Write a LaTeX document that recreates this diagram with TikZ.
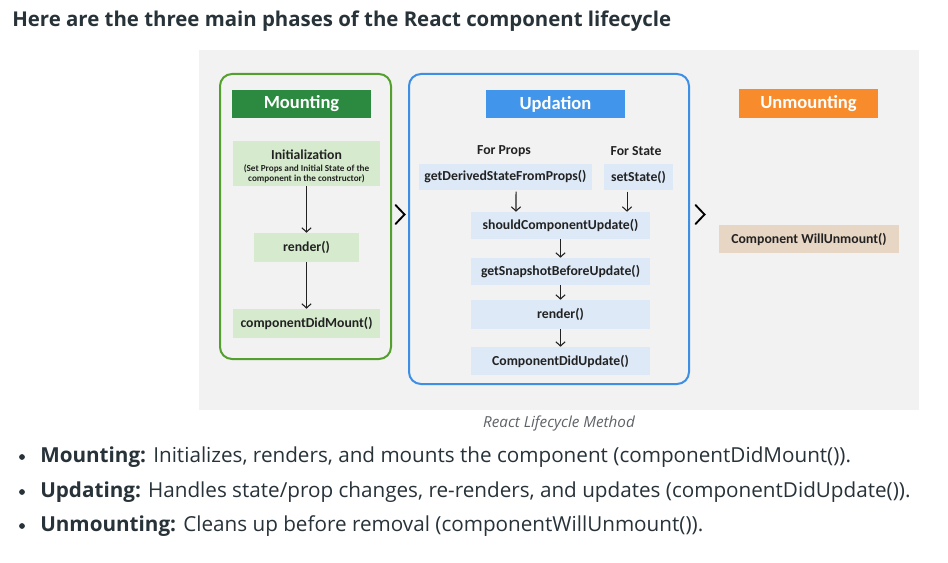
\documentclass[tikz,border=0pt]{standalone}
\usepackage{fontspec}
\setmainfont{Open Sans}
\newfontfamily\dfont{Carlito}
\usetikzlibrary{arrows.meta}
\definecolor{txt}{HTML}{273239}
\definecolor{panel}{HTML}{F2F2F2}
\definecolor{gborder}{HTML}{54A02E}
\definecolor{ghead}{HTML}{2B8A3F}
\definecolor{glight}{HTML}{D6EBCD}
\definecolor{bborder}{HTML}{3D8FE6}
\definecolor{bhead}{HTML}{4195EA}
\definecolor{blight}{HTML}{DDE9F7}
\definecolor{ohead}{HTML}{F88B2C}
\definecolor{beige}{HTML}{E8D6C5}
\definecolor{dtxt}{HTML}{222222}
\definecolor{captxt}{HTML}{5F6367}
\begin{document}
\begin{tikzpicture}[x=0.75pt,y=-0.75pt,
  phasebox/.style={draw, line width=1.5pt, rounded corners=9pt},
  headbox/.style={fill=#1, text=white, inner sep=0pt, minimum height=21pt, minimum width=104.25pt,
     font=\dfont\bfseries\fontsize{13.9}{15}\selectfont},
  dfnt/.style={font=\dfont\bfseries\fontsize{10.3}{12}\selectfont},
  mbox/.style={fill=glight, text=dtxt, inner sep=0pt, dfnt},
  ubox/.style={fill=blight, text=dtxt, inner sep=0pt, dfnt},
  lbl/.style={text=dtxt, inner sep=0pt, dfnt},
  arr/.style={draw=dtxt, line width=0.8pt, -{Straight Barb[length=3.2pt,width=7pt]}},
  chev/.style={draw=black, line width=1.4pt, line cap=round, line join=miter},
  bul/.style={anchor=base west, inner sep=0pt, text=txt, font=\fontsize{15.5}{18}\selectfont}
]
\useasboundingbox (0,0) rectangle (948,563);
\fill[white] (0,0) rectangle (948,563);

% title
\node[anchor=base west, inner sep=0pt, text=txt, font=\bfseries\fontsize{15.3}{18}\selectfont] (title) at (12,27)
  {Here are the three main phases of the React component lifecycle};

% panel
\fill[panel] (199,50) rectangle (919,410);

% Mounting
\draw[phasebox, draw=gborder] (220,74) rectangle (391,359);
\node[headbox=ghead] (mhead) at (301.5,104) {Mounting};
\node[mbox, minimum width=110.25pt, minimum height=33.75pt] (init) at (306.5,163.5) {};
\node[lbl] (initt) at (306.5,155) {Initialization};
\node[lbl, align=center, font=\dfont\bfseries\fontsize{6.9}{7.6}\selectfont] (inits) at (306.5,173.5)
  {(Set Props and Initial State of the\\component in the constructor)};
\node[mbox, minimum width=78.75pt, minimum height=21.75pt] (mrender) at (306.5,247.5) {render()};
\node[mbox, minimum width=110.25pt, minimum height=21.75pt] (cdm) at (306.5,323.5) {componentDidMount()};
\draw[arr] (init.south) -- (mrender.north);
\draw[arr] (mrender.south) -- (cdm.north);

% Updation
\draw[phasebox, draw=bborder] (409,74) rectangle (689,384);
\node[headbox=bhead] (uhead) at (555.5,104) {Updation};
\node[lbl] (fprops) at (504,151) {For Props};
\node[lbl] (fstate) at (636,151) {For State};
\node[ubox, minimum width=129.75pt, minimum height=19.5pt] (gdsfp) at (505.5,177) {getDerivedStateFromProps()};
\node[ubox, minimum width=51.75pt, minimum height=19.5pt] (setst) at (638.5,177) {setState()};
\node[ubox, minimum width=134.25pt, minimum height=20.25pt] (scu) at (560.5,225.5) {shouldComponentUpdate()};
\node[ubox, minimum width=134.25pt, minimum height=20.25pt] (gsbu) at (560.5,271.5) {getSnapshotBeforeUpdate()};
\node[ubox, minimum width=134.25pt, minimum height=21.75pt] (urender) at (560.5,314.5) {render()};
\node[ubox, minimum width=134.25pt, minimum height=21pt] (cdu) at (560.5,361) {ComponentDidUpdate()};
\draw[arr] ([xshift=7.9pt,yshift=-1pt]gdsfp.south) -- ([xshift=-33.4pt]scu.north);
\draw[arr] ([xshift=-8.6pt,yshift=-1pt]setst.south) -- ([xshift=49.9pt]scu.north);
\draw[arr] (scu.south) -- (gsbu.north);
\draw[arr] (gsbu.south) -- (urender.north);
\draw[arr] (urender.south) -- (cdu.north);

% Unmounting
\node[headbox=ohead, minimum height=21.75pt] (unhead) at (808.5,103.5) {Unmounting};
\node[fill=beige, text=dtxt, inner sep=0pt, minimum width=135pt, minimum height=21pt, dfnt] (cwu) at (809,239) {Component WillUnmount()};

% chevrons
\coordinate (c1) at (400,214.5);
\coordinate (c2) at (700,214.5);
\draw[chev] ([shift={(-4.5,-9.5)}]c1) -- ([shift={(4.5,0)}]c1) -- ([shift={(-4.5,9.5)}]c1);
\draw[chev] ([shift={(-4.5,-9.5)}]c2) -- ([shift={(4.5,0)}]c2) -- ([shift={(-4.5,9.5)}]c2);

% caption
\node[inner sep=0pt, text=captxt, font=\itshape\fontsize{11.4}{13}\selectfont] (cap) at (559,424) {React Lifecycle Method};

% bullets
\fill[txt] (22,457) circle (2.9);
\fill[txt] (22,492) circle (2.9);
\fill[txt] (22,526) circle (2.9);
\node[bul] (b1) at (40,462) {\textbf{Mounting:} Initializes, renders, and mounts the component (componentDidMount()).};
\node[bul] (b2) at (40,497) {\textbf{Updating:} Handles state/prop changes, re-renders, and updates (componentDidUpdate()).};
\node[bul] (b3) at (40,531) {\textbf{Unmounting:} Cleans up before removal (componentWillUnmount()).};
\end{tikzpicture}
\end{document}
